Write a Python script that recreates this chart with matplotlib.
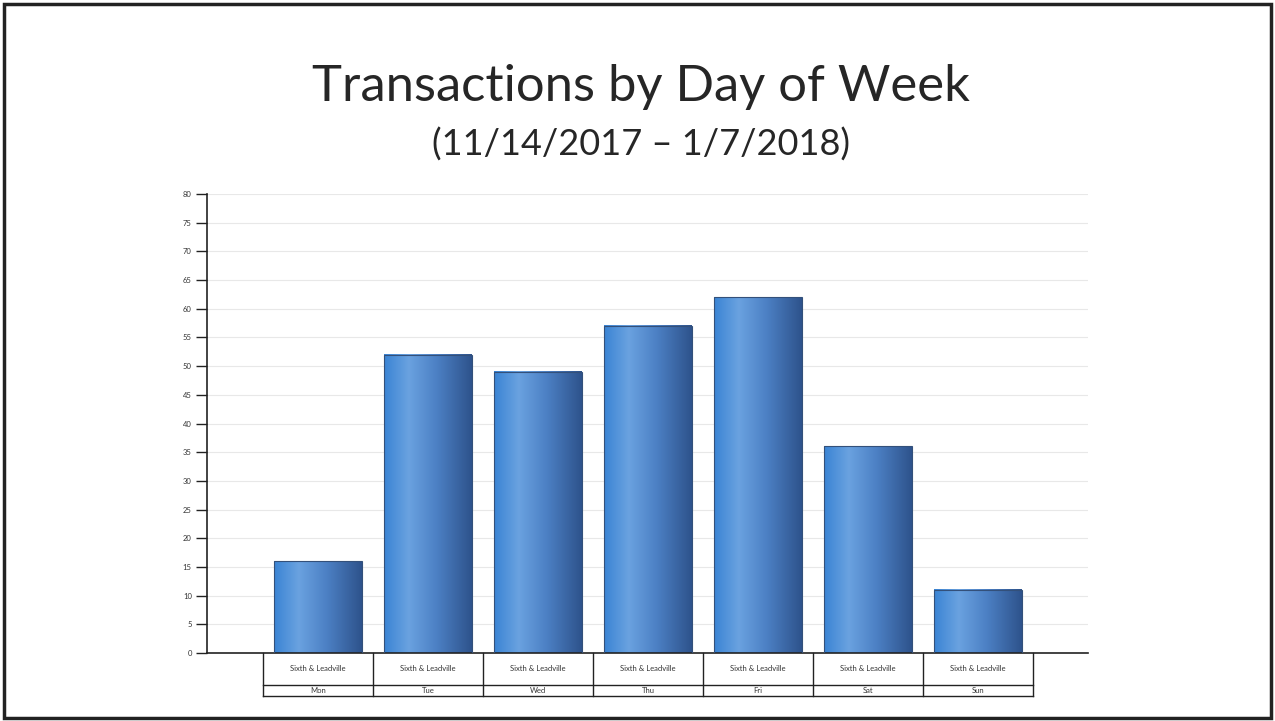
import numpy as np
import matplotlib.pyplot as plt
from matplotlib.colors import LinearSegmentedColormap
from matplotlib.patches import Rectangle

# Data
days = ['Mon', 'Tue', 'Wed', 'Thu', 'Fri', 'Sat', 'Sun']
location = 'Sixth & Leadville'
transactions = [16, 52, 49, 57, 62, 36, 11]
y_ticks = list(range(0, 81, 5))

title = 'Transactions by Day of Week'
subtitle = '(11/14/2017 \u2013 1/7/2018)'

plt.rcParams['font.family'] = ['Lato', 'DejaVu Sans']

fig = plt.figure(figsize=(12.75, 7.21), dpi=100)
fig.patch.set_facecolor('white')

# frame round the slide
fig.add_artist(Rectangle((0.003, 0.004), 0.994, 0.99, transform=fig.transFigure,
                         fill=False, edgecolor='#222222', linewidth=2.5))

fig.text(0.503, 0.88, title, ha='center', va='center', fontsize=36.5, color='#262626')
fig.text(0.503, 0.80, subtitle, ha='center', va='center', fontsize=26, color='#262626')

ax = fig.add_axes([0.1624, 0.0943, 0.691, 0.6366])

# bar gradient: light on the left, dark on the right
cmap = LinearSegmentedColormap.from_list(
    'bar', [(0.0, '#3a84d4'), (0.28, '#6aa2e0'), (0.6, '#4c80c4'), (1.0, '#2e538c')])
grad = np.linspace(0, 1, 256).reshape(1, -1)
width = 0.8
for i, v in enumerate(transactions):
    ax.imshow(grad, cmap=cmap, aspect='auto', zorder=2,
              extent=(i - width / 2, i + width / 2, 0, v))
    ax.add_patch(Rectangle((i - width / 2, 0), width, v, fill=False,
                           edgecolor='#33507a', linewidth=0.8, zorder=3))
ax.set_xlim(-1.01, 7.0)
ax.set_ylim(0, 80)

ax.set_yticks(y_ticks)
ax.set_yticklabels([str(t) for t in y_ticks], fontsize=5.5, color='#333333')
ax.tick_params(axis='y', length=8, width=1, color='#222222', pad=3)
ax.set_xticks([])
ax.grid(axis='y', color='#e8e8e8', linewidth=0.8, zorder=0)
ax.set_axisbelow(True)
for s in ['top', 'right']:
    ax.spines[s].set_visible(False)
ax.spines['left'].set_color('#222222')
ax.spines['bottom'].set_color('#222222')
ax.spines['left'].set_linewidth(1.2)
ax.spines['bottom'].set_linewidth(1.2)

# category table under the axis
tab = fig.add_axes([0.1624, 0.0347, 0.691, 0.0596])
tab.set_xlim(ax.get_xlim())
tab.set_ylim(0, 1)
tab.axis('off')
n = len(days)
edges = np.arange(n + 1) - 0.5
for e in edges:
    tab.plot([e, e], [0, 1], color='#222222', linewidth=1, clip_on=False)
tab.plot([edges[0], edges[-1]], [0.256, 0.256], color='#222222', linewidth=1, clip_on=False)
tab.plot([edges[0], edges[-1]], [0.0, 0.0], color='#222222', linewidth=1, clip_on=False)
for i, d in enumerate(days):
    tab.text(i, 0.63, location, ha='center', va='center', fontsize=5.5, color='#333333')
    tab.text(i, 0.12, d, ha='center', va='center', fontsize=5.5, color='#333333')

fig.savefig('out.png', dpi=100)
